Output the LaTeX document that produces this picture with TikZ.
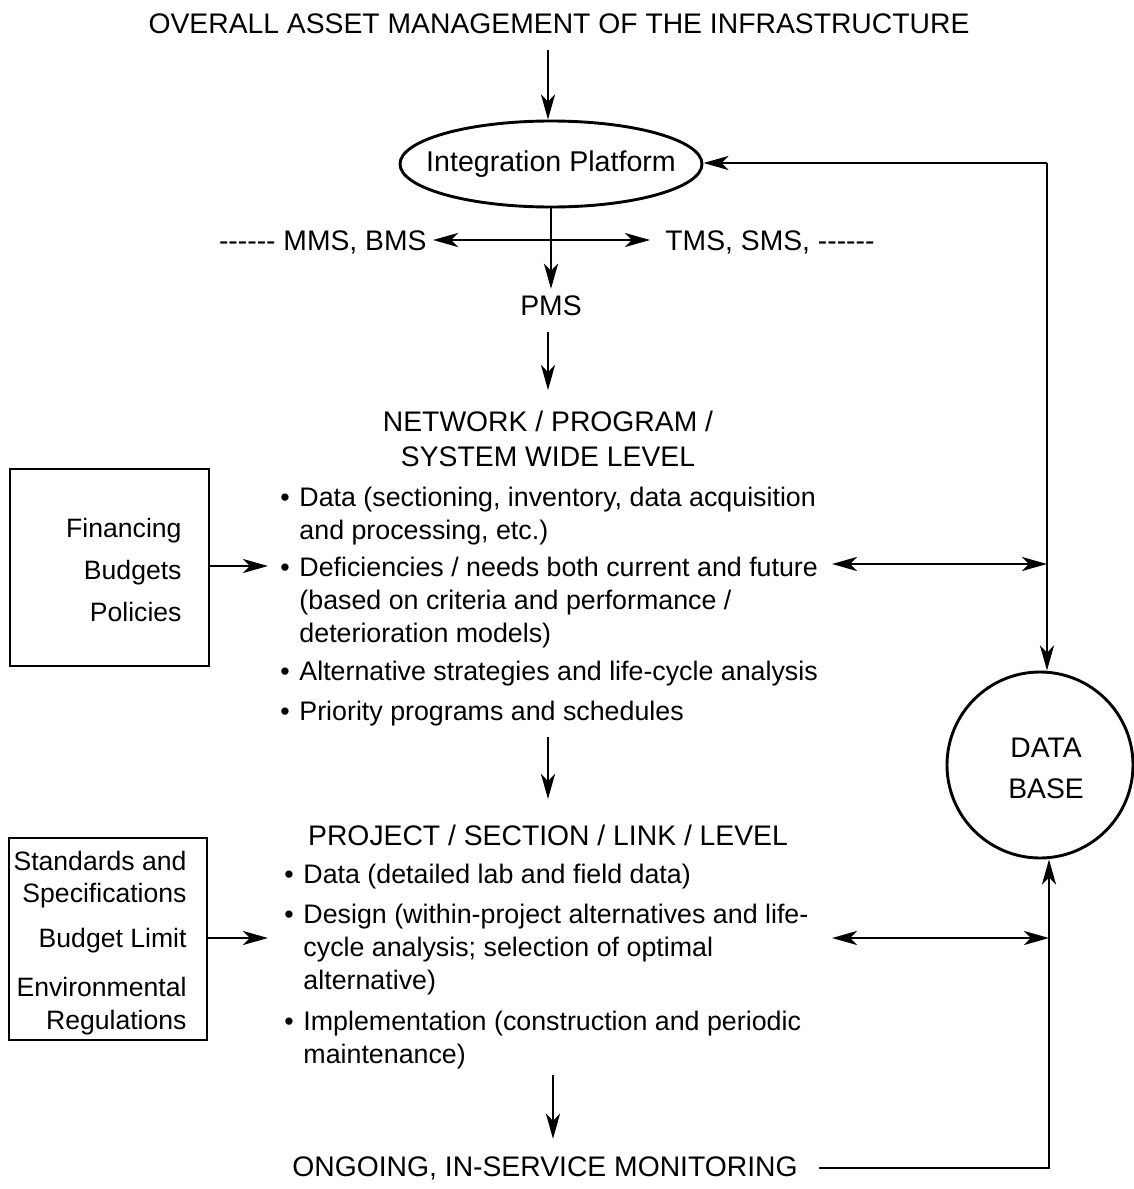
\documentclass[tikz,border=0pt]{standalone}
\usepackage{fontspec}
\setmainfont{Liberation Sans}
\usetikzlibrary{shapes.geometric,arrows.meta,calc}
% single hyphen that does not join its neighbours into dashes
\newcommand\hy{-\kern0pt }
\newcommand\dashrun{\hy\hy\hy\hy\hy\hy}
% bullet with hanging lines
\newcommand\bul[1]{\makebox[19pt][l]{\textbullet}\begin{tabular}[t]{@{}l@{}}#1\end{tabular}}
\begin{document}
\begin{tikzpicture}[x=1pt,y=-1pt,
  line width=2.9pt,
  >={Stealth[length=25pt,width=14pt,inset=7pt]},
  head/.style={inner sep=0pt, font=\fontsize{28.3}{34}\selectfont, anchor=base},
  body/.style={inner sep=0pt, font=\fontsize{26.8}{33}\selectfont, anchor=base west},
  side/.style={inner sep=0pt, font=\fontsize{26.6}{33}\selectfont, anchor=base east},
  frame/.style={draw, line width=2.9pt, inner sep=0pt},
]
\useasboundingbox (0,0) rectangle (1134,1189);

% ---- top of the chain
\node[head] (title) at (559,33) {OVERALL ASSET MANAGEMENT OF THE INFRASTRUCTURE};
\node[draw, ellipse, minimum width=302pt, minimum height=86pt, inner sep=0pt,
      font=\fontsize{28.6}{34}\selectfont] (ip) at (551,164) {\makebox[0pt]{Integration Platform}};
\node[head, anchor=base east] (mms) at (428,250) {\dashrun{} MMS, BMS};
\node[head, anchor=base west] (tms) at (664,250) {TMS, SMS, \dashrun};
\node[head] (pms) at (551,315) {PMS};

% ---- network level
\node[head] (net1) at (548,431) {NETWORK / PROGRAM /};
\node[head] (net2) at (548,466) {SYSTEM WIDE LEVEL};
\node[body] (n1) at (279,506) {\bul{Data (sectioning, inventory, data acquisition\\and processing, etc.)}};
\node[body] (n2) at (279,576) {\bul{Deficiencies / needs both current and future\\(based on criteria and performance /\\deterioration models)}};
\node[body] (n3) at (279,680) {\bul{Alternative strategies and life-cycle analysis}};
\node[body] (n4) at (279,720) {\bul{Priority programs and schedules}};

% ---- project level
\node[head] (proj) at (548,845) {PROJECT / SECTION / LINK / LEVEL};
\node[body] (p1) at (283,883) {\bul{Data (detailed lab and field data)}};
\node[body] (p2) at (283,923) {\bul{Design (within-project alternatives and life-\\cycle analysis; selection of optimal\\alternative)}};
\node[body] (p3) at (283,1030) {\bul{Implementation (construction and periodic\\maintenance)}};

\node[head] (ong) at (545,1176) {ONGOING, IN-SERVICE MONITORING};

% ---- input boxes
\node[frame, minimum width=199pt, minimum height=197pt] (fin) at (109.5,567.5) {};
\node[side] (fin1) at (183,537) {Financing};
\node[side] (fin2) at (183,579) {Budgets};
\node[side] (fin3) at (183,621) {Policies};

\node[frame, minimum width=198pt, minimum height=202pt] (std) at (108,939) {};
\node[side] (std1) at (188,870) {Standards and};
\node[side] (std2) at (188,902) {Specifications};
\node[side] (std3) at (188,947) {Budget Limit};
\node[side] (std4) at (188,996) {Environmental};
\node[side] (std5) at (188,1029) {Regulations};

% ---- data base
\node[draw, circle, minimum size=186pt, inner sep=0pt] (db) at (1040,765) {};
\node[head] (dba) at (1046,757) {DATA};
\node[head] (dbb) at (1046,798) {BASE};

% ---- free ends of connectors
\coordinate (tr) at (1047,163);
\coordinate (br) at (1049,1168);
\coordinate (hl) at (433,240);
\coordinate (hr) at (650,240);
\coordinate (nin) at (268,566);
\coordinate (pin) at (268,938);
\coordinate (nout) at (832,564);
\coordinate (pout) at (832,938);
\coordinate (ntop) at (548,50);
\coordinate (nbot) at (548,737);
\coordinate (pbot) at (553,1075);

% ---- main chain
\draw[->] (ntop) -- (ntop |- ip.north);
\draw[<->] (hl) -- (hr);
\draw[->, shorten >=5pt] (ip.south) -- (ip.south |- pms.north);
\draw[->, shorten <=15pt, shorten >=19pt] (pms.south -| net1.north) -- (net1.north);
\draw[->, shorten >=24pt] (nbot) -- (nbot |- proj.north);
\draw[->, shorten >=16pt] (pbot) -- (pbot |- ong.north);

% ---- inputs
\draw[->] (fin.east |- nin) -- (nin);
\draw[->] (std.east |- pin) -- (pin);

% ---- data base links
\draw[->] (tr) -- (ip.east |- tr);
\draw[->] (tr) -- (tr |- db.north);
\draw[<->] (nout) -- (nout -| tr);
\draw[<->] (pout) -- (pout -| br);
\draw[->] ($(br -| ong.east)+(20,0)$) -- (br) -- (br |- db.south);
\end{tikzpicture}
\end{document}
